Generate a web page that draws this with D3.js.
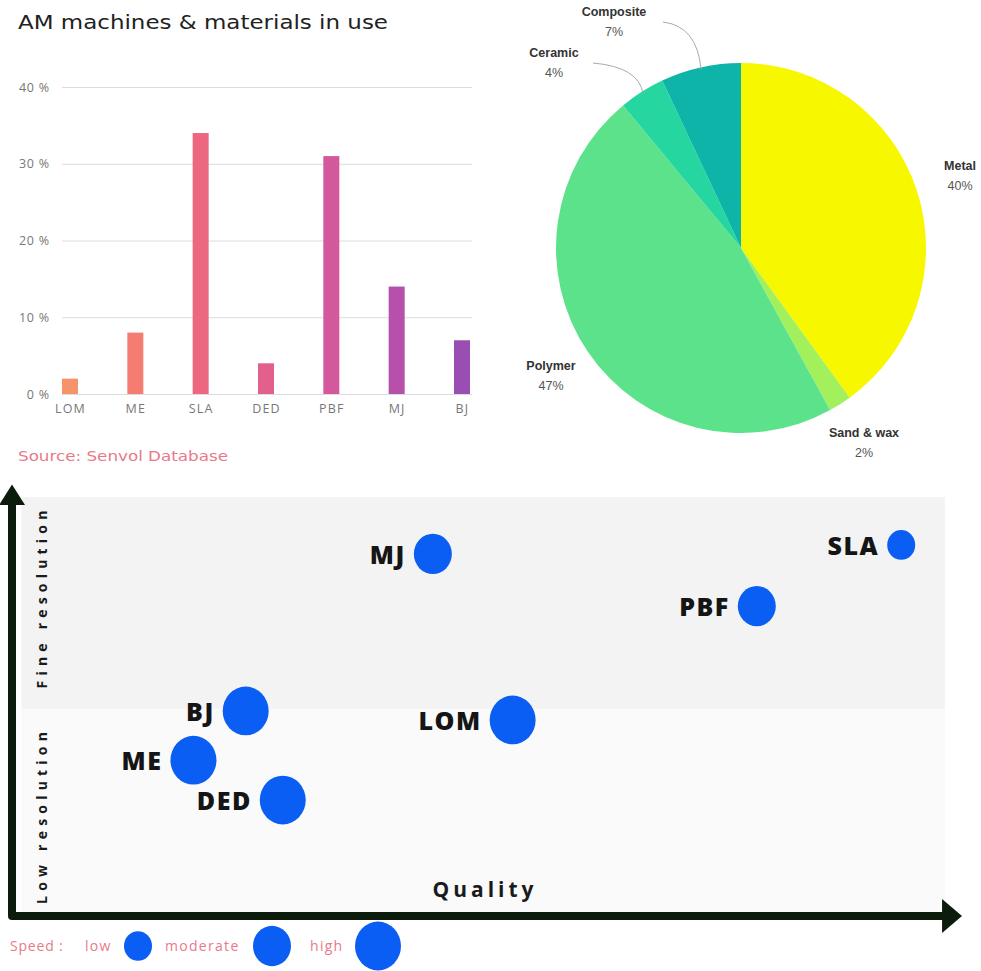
<!DOCTYPE html>
<html>
<head>
<meta charset="utf-8">
<script src="https://cdn.jsdelivr.net/npm/d3@7"></script>
<style>
  body { margin: 0; background: #fff; }
  text { font-family: "Open Sans", sans-serif; }
</style>
</head>
<body>
<div id="chart"></div>
<script>
// bar chart data
var barCategories = ["LOM", "ME", "SLA", "DED", "PBF", "MJ", "BJ"];
var barValues = [2, 8, 34, 4, 31, 14, 7];
var barColors = ["#f59468", "#f47c70", "#ee6780", "#e4608c", "#d4589c", "#b650aa", "#9a4db2"];
var barTicks = [0, 10, 20, 30, 40];

// pie data
var pieLabels = ["Metal", "Sand & wax", "Polymer", "Ceramic", "Composite"];
var pieValues = [40, 2, 47, 4, 7];
var pieColors = ["#f7f700", "#a2f05c", "#5ce28a", "#26d6a0", "#0fb4a8"];

// quality / resolution map
var procNames = ["MJ", "SLA", "PBF", "BJ", "LOM", "ME", "DED"];
var qualityValues = [44.3, 93.6, 78.4, 24.6, 52.7, 19.1, 28.5];
var resolutionValues = [84.6, 86.7, 72.4, 47.9, 45.8, 36.4, 27.1];
var speedValues = ["moderate", "low", "moderate", "high", "high", "high", "high"];
var speedLevels = ["low", "moderate", "high"];
var bandLabels = ["Low resolution", "Fine resolution"];
var bandBreaks = [0, 48.4, 97.9];

var W = 981, H = 971;
var pink = "#e87a88";
var svg = d3.select("#chart").append("svg")
  .attr("width", W)
  .attr("height", H);

// ---------- bar chart ----------
svg.append("text")
  .attr("x", 18)
  .attr("y", 29)
  .attr("font-size", 20)
  .attr("fill", "#222")
  .attr("textLength", 370)
  .attr("lengthAdjust", "spacingAndGlyphs")
  .style("font-family", "'DejaVu Sans', sans-serif")
  .text("AM machines & materials in use");

var bx = d3.scalePoint().domain(barCategories).range([70, 462]);
var by = d3.scaleLinear().domain([0, 40]).range([394, 87]);

var yAx = svg.append("g")
  .attr("transform", "translate(62,0)")
  .call(d3.axisLeft(by).tickValues(barTicks).tickSize(-410).tickPadding(12)
    .tickFormat(function (d) { return d + " %"; }));
yAx.select(".domain").remove();
yAx.selectAll("line").attr("stroke", "#dcdcdc");
yAx.selectAll("text").attr("font-size", 12.5).attr("fill", "#777")
  .attr("letter-spacing", 0.8)
  .style("font-family", "'Open Sans', sans-serif");

var xAx = svg.append("g")
  .attr("transform", "translate(0,394)")
  .call(d3.axisBottom(bx).tickSize(0).tickPadding(10));
xAx.select(".domain").remove();
xAx.selectAll("text").attr("font-size", 12.5).attr("fill", "#777")
  .attr("letter-spacing", 1.2)
  .style("font-family", "'Open Sans', sans-serif");

svg.selectAll(".bar")
  .data(barValues)
  .enter()
  .append("rect")
  .attr("class", "bar")
  .attr("x", function (d, i) { return bx(barCategories[i]) - 8; })
  .attr("width", 16)
  .attr("y", function (d) { return by(d); })
  .attr("height", function (d) { return by(0) - by(d); })
  .attr("fill", function (d, i) { return barColors[i]; });

svg.append("text")
  .attr("x", 18)
  .attr("y", 461)
  .attr("font-size", 13.5)
  .attr("fill", pink)
  .attr("textLength", 210)
  .attr("lengthAdjust", "spacingAndGlyphs")
  .style("font-family", "'DejaVu Sans', sans-serif")
  .text("Source:  Senvol Database");

// ---------- pie ----------
var cx = 741, cy = 248, R = 185;
var pie = d3.pie().sort(null).value(function (d) { return d; });
var arcs = pie(pieValues);
var arc = d3.arc().innerRadius(0).outerRadius(R);
var pg = svg.append("g").attr("transform", "translate(" + cx + "," + cy + ")");
pg.selectAll("path")
  .data(arcs)
  .enter()
  .append("path")
  .attr("d", arc)
  .attr("fill", function (d, i) { return pieColors[i]; });

// label anchors (relative to the pie centre)
var pieLabelPos = [[219, -78], [123, 189], [-190, 122], [-187, -191], [-127, -232]];
pieLabels.forEach(function (lab, i) {
  var p = pieLabelPos[i];
  pg.append("text")
    .attr("x", p[0]).attr("y", p[1])
    .attr("text-anchor", "middle")
    .attr("font-size", 12.5).attr("font-weight", "bold").attr("fill", "#333")
    .style("font-family", "'Liberation Sans', Arial, sans-serif")
    .text(lab);
  pg.append("text")
    .attr("x", p[0]).attr("y", p[1] + 20)
    .attr("text-anchor", "middle")
    .attr("font-size", 12.5).attr("fill", "#555")
    .style("font-family", "'Liberation Sans', Arial, sans-serif")
    .text(pieValues[i] + "%");
});

// leader lines for the thin top slices
[3, 4].forEach(function (i) {
  var a = (arcs[i].startAngle + arcs[i].endAngle) / 2;
  var ex = Math.sin(a) * (R - 2), ey = -Math.cos(a) * (R - 2);
  var sx = i == 3 ? -148 : -78, sy = i == 3 ? -185 : -226;
  var p = d3.path();
  p.moveTo(sx, sy);
  p.quadraticCurveTo(ex - 4, sy + 4, ex, ey);
  pg.append("path").attr("d", p.toString())
    .attr("fill", "none").attr("stroke", "#aaa").attr("stroke-width", 1);
});

// ---------- quality / resolution map ----------
var qx = d3.scaleLinear().domain([0, 100]).range([12, 962]);
var qy = d3.scaleLinear().domain([0, 100]).range([916, 488]);
var rSpeed = d3.scaleOrdinal().domain(speedLevels).range([14, 19, 23]);
var blue = "#0b5ef4";

var bandFill = ["#fafafa", "#f3f3f3"];
bandLabels.forEach(function (lab, i) {
  svg.append("rect")
    .attr("x", qx(1))
    .attr("width", qx(98.2) - qx(1))
    .attr("y", qy(bandBreaks[i + 1]))
    .attr("height", qy(bandBreaks[i]) - qy(bandBreaks[i + 1]))
    .attr("fill", bandFill[i]);
  var mid = (qy(bandBreaks[i]) + qy(bandBreaks[i + 1])) / 2;
  svg.append("text")
    .attr("transform", "translate(47," + (i == 0 ? mid + 3 : mid - 6) + ") rotate(-90)")
    .attr("text-anchor", "middle")
    .attr("font-size", 14).attr("font-weight", "bold")
    .attr("letter-spacing", 5.2)
    .attr("fill", "#1a1a1a")
    .text(lab);
});

// axes with arrows
var axisColor = "#0c1c0c";
svg.append("path")
  .attr("d", "M" + qx(0) + "," + qy(96) + " L" + qx(0) + "," + qy(0) + " L" + qx(98) + "," + qy(0))
  .attr("fill", "none").attr("stroke", axisColor).attr("stroke-width", 8)
  .attr("stroke-linejoin", "round");
svg.append("path")
  .attr("d", "M" + qx(0) + "," + qy(100.8) + " L" + (qx(0) + 13) + "," + qy(96) + " L" + (qx(0) - 13) + "," + qy(96) + "Z")
  .attr("fill", axisColor);
svg.append("path")
  .attr("d", "M" + qx(100) + "," + qy(0) + " L" + qx(97.9) + "," + (qy(0) - 17) + " L" + qx(97.9) + "," + (qy(0) + 17) + "Z")
  .attr("fill", axisColor);

svg.append("text")
  .attr("x", 485).attr("y", 897)
  .attr("text-anchor", "middle")
  .attr("font-size", 21).attr("font-weight", "bold")
  .attr("letter-spacing", 4)
  .attr("fill", "#1a1a1a")
  .text("Quality");

var pts = svg.selectAll(".pt")
  .data(procNames)
  .enter()
  .append("g")
  .attr("class", "pt");
pts.append("ellipse")
  .attr("cx", function (d, i) { return qx(qualityValues[i]); })
  .attr("cy", function (d, i) { return qy(resolutionValues[i]); })
  .attr("rx", function (d, i) { return rSpeed(speedValues[i]); })
  .attr("ry", function (d, i) { return rSpeed(speedValues[i]) * 1.06; })
  .attr("fill", blue);
pts.append("text")
  .attr("x", function (d, i) { return qx(qualityValues[i]) - rSpeed(speedValues[i]) - 8; })
  .attr("y", function (d, i) { return qy(resolutionValues[i]) + 10; })
  .attr("text-anchor", "end")
  .attr("font-size", 25).attr("font-weight", 800)
  .attr("letter-spacing", 1.5)
  .attr("fill", "#151515")
  .text(function (d) { return d; });

// speed legend
var lg = svg.append("g").attr("transform", "translate(0,946)");
lg.append("text").attr("x", 10).attr("y", 5).attr("font-size", 14)
  .attr("letter-spacing", 0.8).attr("fill", pink).text("Speed :");
var legX = [85, 165, 310];
var legC = [138, 272, 378];
speedLevels.forEach(function (s, i) {
  lg.append("text").attr("x", legX[i]).attr("y", 5)
    .attr("font-size", 14).attr("letter-spacing", 1.3)
    .attr("fill", pink).text(s);
  lg.append("ellipse")
    .attr("cx", legC[i]).attr("cy", 0)
    .attr("rx", rSpeed(s)).attr("ry", rSpeed(s) * 1.06)
    .attr("fill", blue);
});
</script>
</body>
</html>
